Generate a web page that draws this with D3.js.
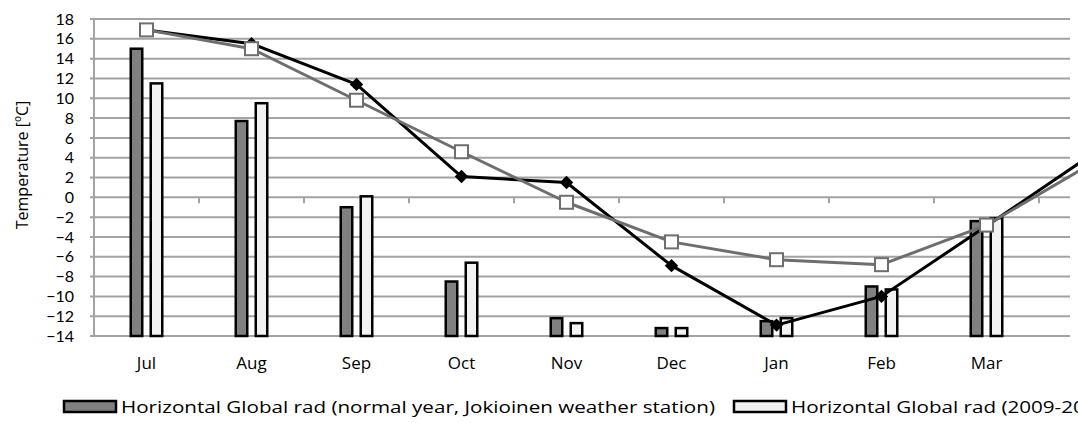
<!DOCTYPE html>
<html>
<head>
<meta charset="utf-8">
<script src="https://cdn.jsdelivr.net/npm/d3@7"></script>
<style>
  html, body { margin: 0; padding: 0; background: #fff; }
  svg { display: block; font-family: "Open Sans", Lato, sans-serif; }
</style>
</head>
<body>
<svg id="chart" width="1078" height="423"></svg>
<script>
// Months along the x axis (Apr only carries the line end points)
const months = ["Jul", "Aug", "Sep", "Oct", "Nov", "Dec", "Jan", "Feb", "Mar", "Apr"];
const monthLabels = ["Jul", "Aug", "Sep", "Oct", "Nov", "Dec", "Jan", "Feb", "Mar"];

// Bar series
const radNormal = [15.0, 7.7, -1.0, -8.5, -12.2, -13.2, -12.5, -9.0, -2.4, null];
const rad2009 = [11.5, 9.5, 0.1, -6.6, -12.7, -13.2, -12.2, -9.3, -2.1, null];

// Line series
const tempBlack = [16.9, 15.5, 11.4, 2.1, 1.5, -6.9, -12.9, -10.0, -2.9, 4.3];
const tempGray = [16.9, 15.0, 9.8, 4.6, -0.5, -4.5, -6.3, -6.8, -2.8, 3.4];

// Y axis ticks
const yTicks = [18, 16, 14, 12, 10, 8, 6, 4, 2, 0, -2, -4, -6, -8, -10, -12, -14];

const legendNames = [
  "Horizontal Global rad (normal year, Jokioinen weather station)",
  "Horizontal Global rad (2009-2010)"
];

const svg = d3.select("#chart");
const plotLeft = 94, plotTop = 19, plotBottom = 336, gridRight = 1070, band = 105;

const x = d3.scaleBand().domain(months).range([plotLeft, plotLeft + band * months.length]).padding(0);
const y = d3.scaleLinear().domain([-14, 18]).range([plotBottom, plotTop]);
const inner = d3.scaleBand().domain(["n", "m"])
  .range([x.bandwidth() / 2 - 17, x.bandwidth() / 2 + 17]).paddingInner(0.3);

// Horizontal gridlines
svg.append("g").selectAll("line").data(yTicks).join("line")
  .attr("x1", plotLeft - 4).attr("x2", gridRight)
  .attr("y1", d => y(d)).attr("y2", d => y(d))
  .attr("stroke", "#a3a3a3").attr("stroke-width", 2);

// Left axis line
svg.append("line").attr("x1", plotLeft).attr("x2", plotLeft).attr("y1", plotTop).attr("y2", plotBottom)
  .attr("stroke", "#a3a3a3").attr("stroke-width", 2);

// Y axis tick labels
const yAxis = d3.axisLeft(y).tickValues(yTicks).tickSize(0).tickPadding(20);
const gy = svg.append("g").attr("transform", `translate(${plotLeft},0)`).call(yAxis);
gy.select(".domain").remove();
gy.selectAll("text").attr("font-size", 16).attr("fill", "#000")
  .attr("font-family", "Lato, sans-serif");

// Category tick marks hanging from the zero line
const bounds = months.slice(1).map(m => x(m)).filter(v => v <= gridRight);
svg.append("g").selectAll("line").data(bounds).join("line")
  .attr("x1", d => d).attr("x2", d => d)
  .attr("y1", y(0)).attr("y2", y(0) + 6)
  .attr("stroke", "#a3a3a3").attr("stroke-width", 2);

// Month labels
const xAxis = d3.axisBottom(x).tickValues(monthLabels).tickSize(0).tickPadding(0);
const gx = svg.append("g").attr("transform", `translate(0,357)`).call(xAxis);
gx.select(".domain").remove();
gx.selectAll("text").attr("font-size", 17).attr("fill", "#000")
  .attr("font-family", "'Open Sans', sans-serif");

// Bars (baseline at the bottom of the axis)
const barData = months.map((m, i) => ({ m, n: radNormal[i], r: rad2009[i] }));
const bars = svg.append("g");
bars.selectAll("rect.n").data(barData.filter(d => d.n !== null)).join("rect")
  .attr("class", "n")
  .attr("x", d => x(d.m) + inner("n") + 1.25)
  .attr("width", inner.bandwidth() - 2.5)
  .attr("y", d => y(d.n))
  .attr("height", d => y(-14) - y(d.n))
  .attr("fill", "#808080").attr("stroke", "#000").attr("stroke-width", 2.5);
bars.selectAll("rect.r").data(barData.filter(d => d.r !== null)).join("rect")
  .attr("class", "r")
  .attr("x", d => x(d.m) + inner("m") + 1.25)
  .attr("width", inner.bandwidth() - 2.5)
  .attr("y", d => y(d.r))
  .attr("height", d => y(-14) - y(d.r))
  .attr("fill", "#f2f2f2").attr("stroke", "#000").attr("stroke-width", 2.5);

const cx = m => x(m) + x.bandwidth() / 2;

// Black temperature line with diamonds
const line = d3.line().x((d, i) => cx(months[i])).y(d => y(d));
svg.append("path").datum(tempBlack).attr("d", line)
  .attr("fill", "none").attr("stroke", "#000").attr("stroke-width", 3)
  .attr("stroke-linejoin", "round");
const diamond = d3.symbol().type(d3.symbolSquare).size(90);
svg.append("g").selectAll("path").data(tempBlack.slice(0, 9)).join("path")
  .attr("d", diamond)
  .attr("transform", (d, i) => `translate(${cx(months[i])},${y(d)}) rotate(45)`)
  .attr("fill", "#000");

// Gray temperature line with open squares
svg.append("path").datum(tempGray).attr("d", line)
  .attr("fill", "none").attr("stroke", "#6e6e6e").attr("stroke-width", 3)
  .attr("stroke-linejoin", "round");
svg.append("g").selectAll("rect").data(tempGray.slice(0, 9)).join("rect")
  .attr("x", (d, i) => cx(months[i]) - 6.5).attr("y", d => y(d) - 6.5)
  .attr("width", 13).attr("height", 13)
  .attr("fill", "#fff").attr("stroke", "#6e6e6e").attr("stroke-width", 2);

// Y axis title
svg.append("text")
  .attr("transform", "translate(28,165) rotate(-90)")
  .attr("text-anchor", "middle")
  .attr("font-size", 16).attr("fill", "#000")
  .text("Temperature [ºC]");

// Legend
const legend = [
  { name: legendNames[0], fill: "#808080", x: 64 },
  { name: legendNames[1], fill: "#f2f2f2", x: 734 }
];
const lg = svg.append("g").selectAll("g").data(legend).join("g")
  .attr("transform", d => `translate(${d.x},401)`);
lg.append("rect").attr("width", 52).attr("height", 11)
  .attr("fill", d => d.fill).attr("stroke", "#000").attr("stroke-width", 2.5);
const lt = lg.append("text").attr("x", 57).attr("y", 12)
  .attr("font-size", 17).attr("fill", "#000")
  .text(d => d.name);
// Widen legend labels slightly so the first one spans 594px
const firstW = lt.node().getComputedTextLength();
const sx = 594 / firstW;
lt.each(function () {
  const w = this.getComputedTextLength();
  d3.select(this).attr("textLength", w * sx).attr("lengthAdjust", "spacingAndGlyphs");
});
</script>
</body>
</html>
